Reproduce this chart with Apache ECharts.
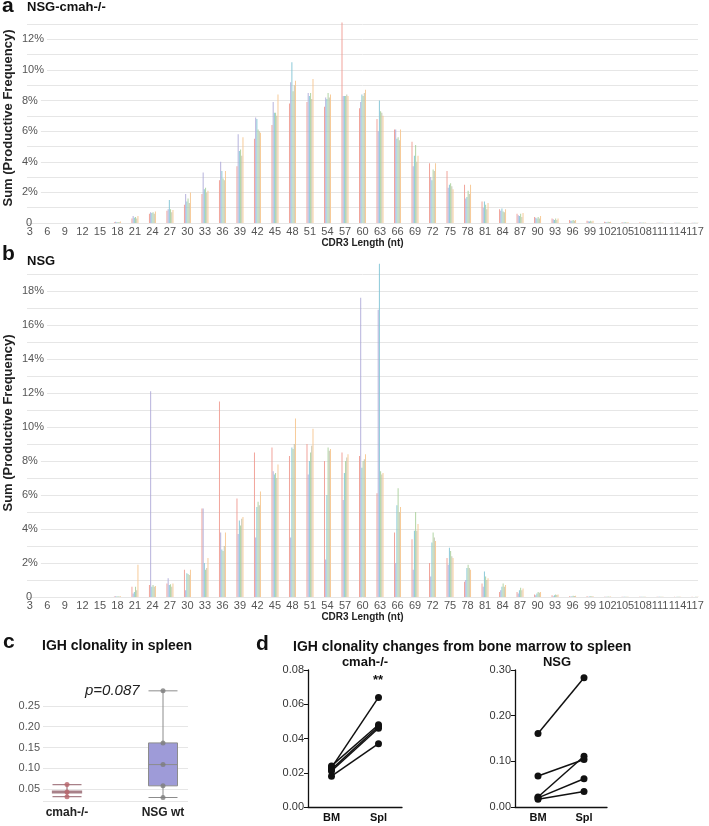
<!DOCTYPE html>
<html><head><meta charset="utf-8">
<script src="https://cdn.jsdelivr.net/npm/echarts@6/dist/echarts.min.js"></script>
<style>html,body{margin:0;padding:0;background:#fff}#c{width:709px;height:826px}</style>
</head><body><div id="c"></div>
<script>
const FONT = '"Liberation Sans", Arial, sans-serif';

// CDR3 length categories (nt)
const categories = [3,4,5,6,7,8,9,10,11,12,13,14,15,16,17,18,19,20,21,22,23,24,25,26,27,28,29,30,31,32,33,34,35,36,37,38,39,40,41,42,43,44,45,46,47,48,49,50,51,52,53,54,55,56,57,58,59,60,61,62,63,64,65,66,67,68,69,70,71,72,73,74,75,76,77,78,79,80,81,82,83,84,85,86,87,88,89,90,91,92,93,94,95,96,97,98,99,100,101,102,103,104,105,106,107,108,109,110,111,112,113,114,115,116,117];
// in-frame lengths carrying the frequencies
const inFrame = [18,21,24,27,30,33,36,39,42,45,48,51,54,57,60,63,66,69,72,75,78,81,84,87,90,93,96,99,102,105,108,111,114,117];

const sampleNames = ['Sample 1','Sample 2','Sample 3','Sample 4','Sample 5','Sample 6'];
const sampleColors = ['#f09a90','#aeaad8','#7fc3d4','#a9cf9a','#bcbfa6','#f6c58e'];

// Panel a: NSG-cmah-/- (% productive frequency)
const cmahS1 = [0.05,0.3,0.6,0.8,1.2,1.9,2.8,3.7,5.5,6.4,7.8,7.9,7.6,13.1,7.5,6.8,6.1,5.3,3.9,3.4,2.5,1.4,0.9,0.6,0.4,0.3,0.2,0.15,0.08,0.05,0.03,0.02,0.02,0.01];
const cmahS2 = [0.08,0.45,0.7,0.9,1.9,3.3,4.0,5.8,6.9,7.9,9.2,8.5,8.2,8.3,7.9,6.0,6.1,3.7,3.0,2.3,1.6,1.0,0.8,0.5,0.35,0.25,0.15,0.12,0.06,0.04,0.03,0.02,0.01,0.01];
const cmahS3 = [0.05,0.35,0.65,1.5,1.4,2.2,3.4,4.7,6.8,7.2,10.5,8.3,8.1,8.3,8.4,8.0,5.5,4.4,2.8,2.5,1.7,1.4,0.95,0.45,0.3,0.2,0.15,0.1,0.05,0.03,0.02,0.02,0.01,0.01];
const cmahS4 = [0.06,0.4,0.7,0.9,1.6,2.3,2.9,4.8,6.1,7.2,8.6,8.5,8.5,8.3,8.3,7.3,5.6,5.1,3.5,2.6,2.1,1.2,0.75,0.6,0.4,0.3,0.2,0.15,0.08,0.05,0.03,0.02,0.02,0.01];
const cmahS5 = [0.05,0.3,0.6,0.7,1.3,2.0,2.8,4.4,6.0,7.0,9.0,8.1,8.2,8.4,8.5,7.2,5.4,4.0,3.4,2.4,1.9,0.9,0.7,0.4,0.3,0.2,0.15,0.1,0.06,0.03,0.02,0.01,0.01,0.01];
const cmahS6 = [0.1,0.45,0.75,0.85,2.0,2.1,3.4,5.6,5.9,8.4,9.3,9.4,8.4,8.3,8.7,7.0,6.1,4.4,3.9,2.2,2.5,1.3,0.9,0.65,0.45,0.3,0.2,0.15,0.08,0.05,0.03,0.02,0.02,0.01];

// Panel b: NSG
const nsgS1 = [0.03,0.6,0.7,0.8,1.6,5.2,11.5,5.8,8.5,8.8,8.3,9.0,8.0,8.5,8.3,6.1,3.8,3.4,2.0,2.3,0.9,0.8,0.3,0.3,0.15,0.1,0.05,0.04,0.02,0.01,0.01,0.01,0.01,0.01];
const nsgS2 = [0.05,0.2,12.1,1.1,0.4,5.2,3.8,3.7,3.5,7.4,3.5,7.2,2.2,5.7,17.6,16.9,2.0,1.6,1.2,1.9,1.0,0.6,0.4,0.2,0.1,0.05,0.03,0.02,0.01,0.01,0.01,0.01,0,0];
const nsgS3 = [0.03,0.3,0.6,0.7,1.4,2.0,2.8,4.5,5.3,7.2,8.8,8.0,6.0,7.3,7.6,19.6,5.4,3.9,3.2,2.9,1.7,1.5,0.6,0.4,0.2,0.1,0.05,0.03,0.02,0.01,0.01,0.01,0.01,0];
const nsgS4 = [0.04,0.6,0.7,0.75,1.35,1.6,2.7,4.2,5.6,7.3,8.7,8.5,8.8,8.0,8.0,7.4,6.4,5.0,3.8,2.7,1.9,1.2,0.8,0.55,0.3,0.15,0.08,0.05,0.03,0.02,0.01,0.01,0.01,0.01];
const nsgS5 = [0.03,0.4,0.6,0.6,1.3,1.7,3.0,4.6,5.4,7.0,9.0,8.9,8.6,8.2,8.1,7.2,5.0,3.9,3.5,2.4,1.7,1.0,0.6,0.4,0.25,0.12,0.06,0.04,0.02,0.01,0.01,0.01,0.01,0.01];
const nsgS6 = [0.05,1.9,0.65,0.8,1.6,2.3,3.8,4.7,6.2,7.8,10.5,9.9,8.7,8.4,8.4,7.3,5.3,4.3,3.3,2.3,1.6,1.1,0.7,0.5,0.3,0.15,0.08,0.05,0.03,0.02,0.01,0.01,0.01,0.01];

// Panel c: IGH clonality in spleen
const boxGroups = ['cmah-/-','NSG wt'];
const cmahBox = [0.032,0.041,0.043,0.045,0.061];
const nsgBox = [0.030,0.058,0.109,0.161,0.286];
const cmahPoints = [0.061,0.043,0.032];
const nsgPoints = [0.286,0.161,0.109,0.058,0.030];

// Panel d: BM -> Spl pairs
const pairCats = ['BM','Spl'];
const cmahBM  = [0.023,0.024,0.022,0.021,0.018];
const cmahSpl = [0.064,0.048,0.047,0.046,0.037];
const nsgBM   = [0.161,0.068,0.022,0.020,0.017];
const nsgSpl  = [0.283,0.104,0.111,0.062,0.034];

const chart = echarts.init(document.getElementById('c'), null, {renderer:'canvas'});

function bars(list, axisIdx){
  return list.map((vals,k)=>({
    type:'bar', name: sampleNames[k], xAxisIndex: axisIdx, yAxisIndex: axisIdx,
    data: inFrame.map((len,j)=>[String(len), vals[j]]),
    barWidth: 0.7, barGap: '20%', clip: false, silent: true,
    itemStyle: {color: sampleColors[k], opacity: 0.9}
  }));
}

function pctAxis(max, gridIdx){
  return {
    type:'value', gridIndex: gridIdx, min:0, max:max, interval:1,
    axisLine:{show:false}, axisTick:{show:false},
    splitLine:{lineStyle:{color:'#e6e6e6', width:1}},
    axisLabel:{
      align:'left', margin:5, color:'#555', fontFamily:FONT, fontSize:11,
      formatter: v => v===0 ? '{z|0}' : (v%2===0 ? '{p|'+v+'%}' : ''),
      rich:{ z:{padding:[0,0,0,4], fontSize:11, color:'#555', fontFamily:FONT},
             p:{backgroundColor:'#fff', padding:[0,3,0,0], fontSize:11, color:'#555', fontFamily:FONT} }
    }
  };
}
function catAxis(gridIdx, margin, nameGap){
  return {
    type:'category', gridIndex: gridIdx, data: categories.map(String), boundaryGap:true,
    axisLine:{show:false}, axisTick:{show:false},
    axisLabel:{interval:2, margin:margin, color:'#555', fontFamily:FONT, fontSize:11},
    name:'CDR3 Length (nt)', nameLocation:'middle', nameGap:nameGap,
    nameTextStyle:{fontWeight:'bold', fontSize:10, color:'#222', fontFamily:FONT}
  };
}

const titleStyle = (size, extra) => Object.assign({fontFamily:FONT, fontWeight:'bold', fontSize:size, color:'#111'}, extra||{});

const option = {
  animation:false,
  backgroundColor:'#fff',
  title:[
    {text:'a', left:2, top:-4, padding:0, textStyle:titleStyle(21)},
    {text:'NSG-cmah-/-', left:27, top:1, padding:0, textStyle:titleStyle(13)},
    {text:'b', left:2, top:244, padding:0, textStyle:titleStyle(21)},
    {text:'NSG', left:27, top:255, padding:0, textStyle:titleStyle(13)},
    {text:'c', left:3, top:632, padding:0, textStyle:titleStyle(21)},
    {text:'IGH clonality in spleen', left:42, top:639, padding:0, textStyle:titleStyle(14)},
    {text:'p=0.087', left:85, top:683, padding:0, textStyle:{fontFamily:FONT, fontStyle:'italic', fontSize:15, color:'#222', fontWeight:'normal'}},
    {text:'d', left:256, top:634, padding:0, textStyle:titleStyle(21)},
    {text:'IGH clonality changes from bone marrow to spleen', left:293, top:640, padding:0, textStyle:titleStyle(14)},
    {text:'cmah-/-', left:365, top:656, padding:0, textAlign:'center', textStyle:titleStyle(13)},
    {text:'NSG', left:557, top:656, padding:0, textAlign:'center', textStyle:titleStyle(13)},
    {text:'**', left:378, top:674, padding:0, textAlign:'center', textStyle:titleStyle(13)}
  ],
  graphic:[
    {type:'text', x:8, y:118, rotation:Math.PI/2, silent:true,
     style:{text:'Sum (Productive Frequency)', font:'bold 13px "Liberation Sans", Arial', fill:'#222', align:'center', verticalAlign:'middle'}},
    {type:'text', x:8, y:423, rotation:Math.PI/2, silent:true,
     style:{text:'Sum (Productive Frequency)', font:'bold 13px "Liberation Sans", Arial', fill:'#222', align:'center', verticalAlign:'middle'}}
  ],
  grid:[
    {left:27, right:11, top:24, bottom:603},   // a
    {left:27, right:11, top:274, bottom:229},  // b
    {left:43, right:521, top:685, bottom:16},  // c gridlines
    {left:19, right:498, top:685, bottom:16},  // c boxes
    {left:308, right:307, top:670, bottom:19}, // d1
    {left:515, right:102, top:670, bottom:19}  // d2
  ],
  xAxis:[
    catAxis(0, 3, 14),
    catAxis(1, 3, 12),
    {type:'category', gridIndex:2, data:boxGroups, show:false},
    {type:'category', gridIndex:3, data:boxGroups, axisLine:{show:false}, axisTick:{show:false},
     axisLabel:{margin:-3, fontFamily:FONT, fontWeight:'bold', fontSize:12, color:'#222'}},
    {type:'category', gridIndex:4, data:pairCats, axisLine:{lineStyle:{color:'#111', width:1.3}}, axisTick:{show:false},
     axisLabel:{margin:5, fontFamily:FONT, fontWeight:'bold', fontSize:11, color:'#111'}},
    {type:'category', gridIndex:5, data:pairCats, axisLine:{lineStyle:{color:'#111', width:1.3}}, axisTick:{show:false},
     axisLabel:{margin:5, fontFamily:FONT, fontWeight:'bold', fontSize:11, color:'#111'}}
  ],
  yAxis:[
    pctAxis(13, 0),
    pctAxis(19, 1),
    {type:'value', gridIndex:2, min:0, max:0.3, interval:0.05,
     axisLine:{show:false}, axisTick:{show:false},
     splitLine:{showMinLine:false, showMaxLine:false, lineStyle:{color:'#e6e6e6'}},
     axisLabel:{margin:3, color:'#555', fontFamily:FONT, fontSize:11,
       formatter: v => (v<=0 || v>=0.3) ? '' : v.toFixed(2)}},
    {type:'value', gridIndex:3, min:0, max:0.3, show:false, splitLine:{show:false}},
    {type:'value', gridIndex:4, min:0, max:0.08, interval:0.02,
     axisLine:{show:true, lineStyle:{color:'#111', width:1.3}}, axisTick:{show:true, length:4, lineStyle:{color:'#111'}},
     splitLine:{show:false},
     axisLabel:{margin:4, color:'#333', fontFamily:FONT, fontSize:11, formatter: v=>v.toFixed(2)}},
    {type:'value', gridIndex:5, min:0, max:0.3, interval:0.1,
     axisLine:{show:true, lineStyle:{color:'#111', width:1.3}}, axisTick:{show:true, length:4, lineStyle:{color:'#111'}},
     splitLine:{show:false},
     axisLabel:{margin:4, color:'#333', fontFamily:FONT, fontSize:11, formatter: v=>v.toFixed(2)}}
  ],
  series: [].concat(
    bars([cmahS1,cmahS2,cmahS3,cmahS4,cmahS5,cmahS6], 0),
    bars([nsgS1,nsgS2,nsgS3,nsgS4,nsgS5,nsgS6], 1),
    [
      {type:'line', xAxisIndex:2, yAxisIndex:2, data:[], silent:true,
       markLine:{silent:true, symbol:['none','none'], label:{show:false},
         lineStyle:{color:'#e6e6e6', type:'solid', width:1}, data:[{yAxis:0.017}]}},
      {type:'boxplot', xAxisIndex:3, yAxisIndex:3, boxWidth:[29,29], silent:true,
       data:[
         {value:cmahBox, itemStyle:{color:'#cdbdc3', borderColor:'#a88088', borderWidth:1.3}},
         {value:nsgBox, itemStyle:{color:'#9e9bd8', borderColor:'#8c8c8c', borderWidth:1}}
       ]},
      {type:'scatter', xAxisIndex:3, yAxisIndex:3, symbolSize:5, silent:true,
       itemStyle:{color:'#b8646a'}, data: cmahPoints.map(v=>[boxGroups[0], v])},
      {type:'scatter', xAxisIndex:3, yAxisIndex:3, symbolSize:5, silent:true,
       itemStyle:{color:'#7d7d7d'}, data: nsgPoints.map(v=>[boxGroups[1], v])}
    ],
    cmahBM.map((b,i)=>({type:'line', xAxisIndex:4, yAxisIndex:4, silent:true,
      data:[[pairCats[0], b],[pairCats[1], cmahSpl[i]]], symbol:'circle', symbolSize:7,
      lineStyle:{color:'#111', width:1.5}, itemStyle:{color:'#111'}})),
    nsgBM.map((b,i)=>({type:'line', xAxisIndex:5, yAxisIndex:5, silent:true,
      data:[[pairCats[0], b],[pairCats[1], nsgSpl[i]]], symbol:'circle', symbolSize:7,
      lineStyle:{color:'#111', width:1.5}, itemStyle:{color:'#111'}}))
  )
};
chart.setOption(option);
</script></body></html>
